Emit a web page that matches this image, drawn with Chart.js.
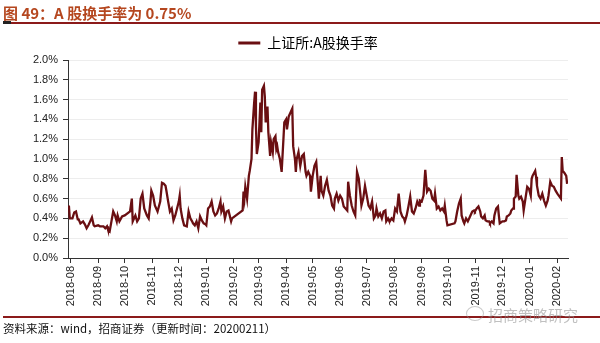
<!DOCTYPE html>
<html>
<head>
<meta charset="utf-8">
<script src="https://cdn.jsdelivr.net/npm/chart.js@4/dist/chart.umd.min.js"></script>
<style>
  html, body { margin: 0; padding: 0; background: #fff; }
  #wrap { position: relative; width: 600px; height: 343px; overflow: hidden; background: #fff; }
  #chart { position: absolute; left: 0; top: 0; }
  .title { position: absolute; left: 3px; top: 2px; font: bold 15px "Noto Sans CJK SC", sans-serif; color: #b5471f; white-space: nowrap; }
  .rule-top { position: absolute; left: 3px; right: 0; top: 22px; height: 2px; background: #8b1a1a; }
  .rule-top::before { content: ""; position: absolute; left: 0; top: -1px; width: 8px; height: 3px; background: #222; }
  .rule-bottom { position: absolute; left: 3px; right: 0; top: 316px; height: 2px; background: #8b1a1a; }
  .source { position: absolute; left: 3px; top: 320px; font: 11.5px "Noto Sans CJK SC", sans-serif; color: #111; white-space: nowrap; }
  .mark { position: absolute; left: 488px; top: 304px; font: 15px "Noto Sans CJK SC", sans-serif; color: rgba(140,140,140,0.55); white-space: nowrap; }
  .mark-icon { position: absolute; left: 466px; top: 306px; width: 16px; height: 13px; border: 1.5px solid rgba(150,150,150,0.5); border-radius: 50%; }
</style>
</head>
<body>
<div id="wrap">
  <canvas id="chart" width="600" height="343"></canvas>
  <div class="title">图 49：A 股换手率为 0.75%</div>
  <div class="rule-top"></div>
  <div class="rule-bottom"></div>
  <div class="mark-icon"></div>
  <div class="mark">招商策略研究</div>
  <div class="source">资料来源：wind，招商证券（更新时间：20200211）</div>
</div>
<script>
// Month-start tick labels for the x axis
const monthLabels = ['2018-08','2018-09','2018-10','2018-11','2018-12','2019-01','2019-02','2019-03','2019-04','2019-05','2019-06','2019-07','2019-08','2019-09','2019-10','2019-11','2019-12','2020-01','2020-02'];

// Trading days, counted in calendar days since 2018-08-01
const days = [
  -2,-1,2,4,6,8,9,11,14,16,18,20,22,24,26,27,31,33,37,39,41,42,44,46,48,50,52,53,55,58,
  61,67,69,70,73,75,77,79,81,83,86,88,90,91,93,95,98,101,103,105,107,108,110,112,114,116,118,120,122,123,
  124,126,128,131,133,135,137,138,140,142,144,146,148,150,152,153,155,157,159,161,163,165,167,169,170,172,174,176,178,181,
  182,185,194,195,196,197,199,201,202,204,205,207,208,209,210,212,214,215,216,218,219,220,222,223,225,226,228,229,231,232,
  233,234,236,238,240,241,243,244,246,248,250,251,253,254,255,257,259,261,263,265,266,268,270,271,273,275,277,279,280,282,
  283,285,287,289,291,293,295,297,298,300,302,304,306,308,310,312,313,315,317,319,321,323,325,327,328,330,332,334,336,338,
  340,342,344,345,347,349,351,353,355,356,358,359,360,362,364,366,368,370,372,374,376,377,379,381,383,385,387,389,391,393,
  394,396,398,400,402,404,406,408,410,411,413,415,417,419,421,422,424,425,433,434,436,438,440,441,443,444,446,448,451,453,
  455,456,458,460,462,463,465,467,468,470,472,473,475,477,478,480,482,483,484,487,489,491,492,494,496,497,499,500,502,503,
  505,506,508,510,511,513,515,517,519,520,521,524,525,526,528,530,532,534,536,538,539,541,543,545,547,549,553,554,555,557,
  559,560
];

// 上证所: A股换手率 (%)
const turnover = [
  0.53,0.40,0.40,0.46,0.47,0.39,0.39,0.35,0.37,0.34,0.30,0.33,0.37,0.41,0.33,0.32,0.33,0.32,0.32,0.30,0.32,0.29,0.27,0.37,0.47,0.43,0.37,0.43,0.37,0.42,
  0.43,0.47,0.60,0.37,0.43,0.37,0.40,0.60,0.65,0.50,0.43,0.40,0.57,0.68,0.63,0.53,0.47,0.57,0.76,0.75,0.73,0.68,0.57,0.47,0.50,0.38,0.43,0.50,0.57,0.63,
  0.50,0.40,0.33,0.32,0.47,0.40,0.37,0.35,0.33,0.37,0.30,0.42,0.38,0.35,0.34,0.33,0.50,0.52,0.57,0.47,0.43,0.45,0.50,0.57,0.47,0.52,0.40,0.47,0.48,0.37,
  0.40,0.42,0.48,0.67,0.60,0.72,0.60,0.83,0.88,1.00,1.30,1.57,1.68,1.33,1.05,1.17,1.57,1.27,1.70,1.74,1.63,1.37,1.53,1.27,1.03,1.17,1.07,1.20,1.23,1.10,
  1.13,1.07,1.00,0.87,1.20,1.37,1.40,1.30,1.43,1.47,1.51,1.13,1.00,0.87,1.00,1.07,0.93,1.03,1.05,0.87,0.83,0.87,0.83,0.67,0.83,0.93,0.97,0.73,0.60,0.83,
  0.68,0.63,0.73,0.79,0.68,0.63,0.53,0.50,0.60,0.65,0.58,0.63,0.60,0.52,0.50,0.48,0.77,0.63,0.53,0.47,0.43,0.87,0.80,0.63,0.53,0.60,0.73,0.63,0.53,0.50,
  0.57,0.40,0.43,0.50,0.42,0.45,0.40,0.47,0.48,0.37,0.40,0.38,0.37,0.40,0.38,0.50,0.47,0.65,0.47,0.42,0.40,0.37,0.43,0.52,0.62,0.47,0.45,0.50,0.57,0.53,
  0.58,0.57,0.63,0.89,0.67,0.70,0.68,0.60,0.58,0.65,0.50,0.52,0.48,0.50,0.47,0.53,0.38,0.33,0.35,0.37,0.47,0.55,0.60,0.43,0.37,0.35,0.40,0.37,0.43,0.47,
  0.48,0.47,0.50,0.52,0.47,0.42,0.40,0.43,0.38,0.37,0.37,0.35,0.37,0.35,0.43,0.50,0.52,0.43,0.35,0.37,0.37,0.38,0.42,0.43,0.45,0.48,0.50,0.60,0.62,0.84,
  0.63,0.60,0.62,0.57,0.48,0.60,0.72,0.70,0.63,0.80,0.83,0.88,0.82,0.73,0.63,0.60,0.65,0.58,0.53,0.58,0.63,0.77,0.73,0.72,0.68,0.65,0.60,1.02,0.88,0.86,
  0.83,0.75
];

const yTicks = [0, 0.2, 0.4, 0.6, 0.8, 1.0, 1.2, 1.4, 1.6, 1.8, 2.0];

const DAY = 86400000;
const origin = Date.UTC(2018, 7, 1);
const monthDays = monthLabels.map(s => {
  const [y, m] = s.split('-').map(Number);
  return Math.round((Date.UTC(y, m - 1, 1) - origin) / DAY);
});

const points = days.map((d, i) => ({ x: d, y: turnover[i] }));

const lineColor = '#6a0f12';
const axisColor = '#333';
const tickFont = { family: '"Liberation Sans", Arial, sans-serif', size: 11 };

// Nudge the legend so it sits centred over the plot rather than the canvas
const legendOffset = {
  id: 'legendOffset',
  afterUpdate(chart) {
    const lg = chart.legend;
    if (!lg) return;
    lg.left += 17;
    lg.right += 17;
    lg.adjustHitBoxes();
  }
};

new Chart(document.getElementById('chart'), {
  type: 'line',
  data: {
    datasets: [{
      label: '上证所:A股换手率',
      data: points,
      borderColor: lineColor,
      backgroundColor: lineColor,
      borderWidth: 2.3,
      pointRadius: 0,
      tension: 0,
      fill: false
    }]
  },
  plugins: [legendOffset],
  options: {
    responsive: false,
    animation: false,
    layout: { padding: { left: 14, right: 32, top: 26, bottom: 30 } },
    plugins: {
      tooltip: { enabled: false },
      legend: {
        display: true,
        position: 'top',
        align: 'center',
        labels: {
          boxWidth: 22,
          boxHeight: 3,
          padding: 10,
          color: '#222',
          font: { family: '"Noto Sans CJK SC", sans-serif', size: 14 },
          generateLabels(chart) {
            const ds = chart.data.datasets[0];
            return [{ text: ds.label, fillStyle: lineColor, strokeStyle: lineColor, lineWidth: 0, datasetIndex: 0, hidden: false }];
          }
        }
      }
    },
    scales: {
      x: {
        type: 'linear',
        min: -3,
        max: 561,
        afterBuildTicks(scale) { scale.ticks = monthDays.map(v => ({ value: v })); },
        afterFit(scale) { scale.height = 55; },
        border: { display: true, color: axisColor, width: 1 },
        grid: { drawOnChartArea: false, drawTicks: true, tickLength: 5, tickColor: axisColor },
        ticks: {
          autoSkip: false,
          minRotation: 90,
          maxRotation: 90,
          padding: 3,
          color: '#222',
          font: tickFont,
          callback(value, index) { return monthLabels[index]; }
        }
      },
      y: {
        min: 0,
        max: 2,
        afterBuildTicks(scale) { scale.ticks = yTicks.map(v => ({ value: v })); },
        afterFit(scale) { scale.width = 54; },
        border: { display: true, color: axisColor, width: 1 },
        grid: { color: '#ededed', lineWidth: 1, drawTicks: true, tickLength: 5, tickColor: axisColor },
        ticks: {
          padding: 5,
          color: '#222',
          font: tickFont,
          callback(value) { return value.toFixed(1) + '%'; }
        }
      }
    }
  }
});
</script>
</body>
</html>
